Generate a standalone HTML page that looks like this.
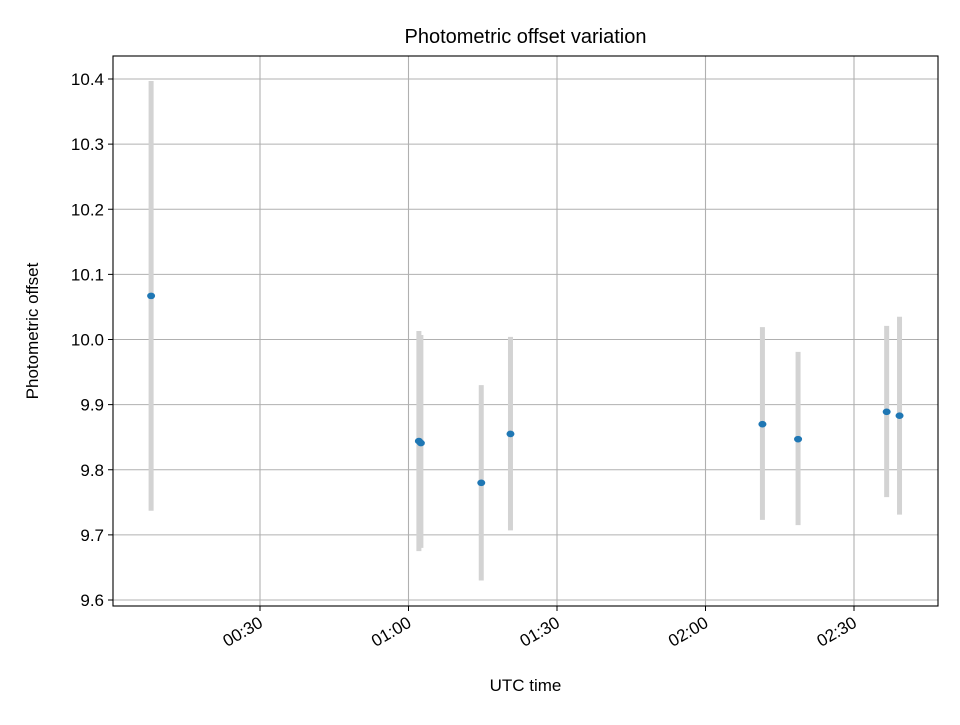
<!DOCTYPE html>
<html><head><meta charset="utf-8"><style>
body{margin:0;background:#fff}
svg text{font-family:"Liberation Sans","DejaVu Sans",sans-serif;fill:#000}
</style></head><body>
<svg id="chart" width="960" height="720" viewBox="0 0 960 720" xmlns="http://www.w3.org/2000/svg">
<rect width="960" height="720" fill="#fff"/>
<g id="grid"></g><g id="bars"></g><g id="pts"></g><g id="axes"></g>
</svg>
<script>
const times=[8.0,62.1,62.5,74.7,80.6,131.5,138.7,156.6,159.2];
const values=[10.067,9.844,9.841,9.780,9.855,9.870,9.847,9.889,9.883];
const errLow=[9.737,9.675,9.680,9.630,9.707,9.723,9.715,9.758,9.731];
const errHigh=[10.397,10.013,10.007,9.930,10.004,10.019,9.981,10.021,10.035];
const xTicks=[30,60,90,120,150];
const xTickLabels=["00:30","01:00","01:30","02:00","02:30"];
const yTicks=[9.6,9.7,9.8,9.9,10.0,10.1,10.2,10.3,10.4];
const yTickLabels=["9.6","9.7","9.8","9.9","10.0","10.1","10.2","10.3","10.4"];

const L=113,R=938,T=56,B=606;
const xs=m=>260+(m-30)*4.95;
const ys=v=>600-(v-9.6)*651.25;
const NS="http://www.w3.org/2000/svg";
function mk(tag,attrs,parent,txt){const e=document.createElementNS(NS,tag);for(const k in attrs)e.setAttribute(k,attrs[k]);if(txt!==undefined)e.textContent=txt;document.getElementById(parent).appendChild(e);return e;}

xTicks.forEach((t,i)=>{const x=xs(t);
 const g=mk('line',{x1:x,x2:x,y1:T,y2:B,stroke:'#b0b0b0','stroke-width':1.1},'grid');
 
 const tk=mk('line',{x1:x,x2:x,y1:B,y2:B+5,stroke:'#000','stroke-width':1},'axes');
 
 const ax=x+4, ay=B+20;
 const lb=mk('text',{x:ax,y:ay,'font-size':17,'text-anchor':'end',transform:`rotate(-30 ${ax} ${ay})`},'axes',xTickLabels[i]);
 
});
yTicks.forEach((t,i)=>{const y=ys(t);
 const g=mk('line',{x1:L,x2:R,y1:y,y2:y,stroke:'#b0b0b0','stroke-width':1.1},'grid');
 
 const tk=mk('line',{x1:L-5,x2:L,y1:y,y2:y,stroke:'#000','stroke-width':1},'axes');
 
 const lb=mk('text',{x:L-9,y:y+6,'font-size':17,'text-anchor':'end'},'axes',yTickLabels[i]);
 
});
times.forEach((t,i)=>{const x=xs(t);
 const b=mk('line',{x1:x,x2:x,y1:ys(errHigh[i]),y2:ys(errLow[i]),stroke:'#d3d3d3','stroke-width':5},'bars');
 
 const p=mk('ellipse',{cx:x,cy:ys(values[i]),rx:4,ry:3.3,fill:'#1f77b4'},'pts');
 
});
const fr=mk('rect',{x:L,y:T,width:R-L,height:B-T,fill:'none',stroke:'#000','stroke-width':1.1},'axes');

const ti=mk('text',{x:(L+R)/2,y:43,'font-size':20,'text-anchor':'middle'},'axes','Photometric offset variation');

const xt=mk('text',{x:(L+R)/2,y:691,'font-size':17,'text-anchor':'middle'},'axes','UTC time');

const yt=mk('text',{x:38,y:331,'font-size':17,'text-anchor':'middle',transform:'rotate(-90 38 331)'},'axes','Photometric offset');

</script>
</body></html>
